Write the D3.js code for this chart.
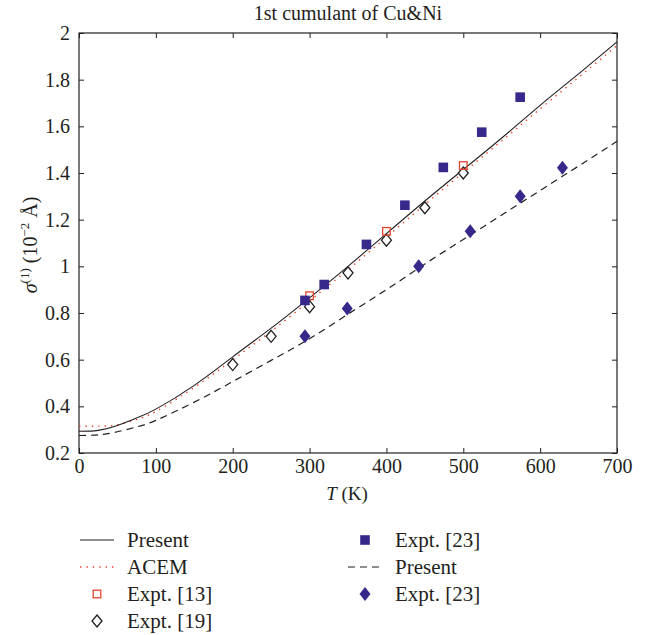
<!DOCTYPE html>
<html>
<head>
<meta charset="utf-8">
<script src="https://cdn.jsdelivr.net/npm/d3@7"></script>
<style>
  body { margin: 0; background: #fff; }
  text { font-family: "Liberation Serif", "DejaVu Serif", serif; fill: #231f20; }
</style>
</head>
<body>
<div id="chart"></div>
<script>
// temperatures (K) at which the curves were read
const curveT = [0, 25, 50, 75, 100, 150, 200, 250, 300, 350, 400, 450, 500, 550, 600, 650, 700];
// Cu, present model (solid)
const cuPresent = [0.293, 0.297, 0.318, 0.350, 0.388, 0.490, 0.612, 0.735, 0.865, 1.0, 1.14, 1.28, 1.415, 1.55, 1.69, 1.825, 1.962];
// Cu, ACEM (red dotted)
const cuAcem = [0.315, 0.315, 0.321, 0.344, 0.378, 0.481, 0.600, 0.722, 0.852, 0.986, 1.125, 1.265, 1.402, 1.538, 1.675, 1.81, 1.946];
// Ni, present model (dashed)
const niPresent = [0.275, 0.278, 0.291, 0.312, 0.340, 0.418, 0.506, 0.597, 0.690, 0.795, 0.90, 1.01, 1.115, 1.22, 1.325, 1.43, 1.536];

// experiment points
const expt13T = [300, 400, 500];
const expt13V = [0.874, 1.15, 1.432];
const expt19T = [200, 250, 300, 350, 400, 450, 500];
const expt19V = [0.579, 0.70, 0.827, 0.972, 1.112, 1.251, 1.40];
const expt23CuT = [294, 319, 374, 424, 474, 524, 574];
const expt23CuV = [0.854, 0.922, 1.094, 1.262, 1.424, 1.575, 1.725];
const expt23NiT = [294, 349, 442, 509, 574, 629];
const expt23NiV = [0.70, 0.819, 1.0, 1.15, 1.30, 1.422];

const xTicks = [0, 100, 200, 300, 400, 500, 600, 700];
const yTicks = [0.2, 0.4, 0.6, 0.8, 1, 1.2, 1.4, 1.6, 1.8, 2];

const W = 651, H = 635;
const margin = { top: 33, right: 34, bottom: 182, left: 79 };
const navy = "#37298c", red = "#e8442c", ink = "#231f20";

const svg = d3.select("#chart").append("svg")
  .attr("width", W).attr("height", H);

const x = d3.scaleLinear().domain([0, 700]).range([margin.left, W - margin.right]);
const y = d3.scaleLinear().domain([0.2, 2]).range([H - margin.bottom, margin.top]);

// axes: ticks pointing inward on all four sides
const tickLen = 5;
svg.append("g")
  .attr("transform", `translate(0,${y(0.2)})`)
  .call(d3.axisBottom(x).tickValues(xTicks).tickSize(-tickLen).tickPadding(6).tickFormat(d3.format("d")))
  .call(g => g.select(".domain").remove());
svg.append("g")
  .attr("transform", `translate(0,${y(2)})`)
  .call(d3.axisTop(x).tickValues(xTicks).tickSize(-tickLen).tickFormat(""))
  .call(g => g.select(".domain").remove());
svg.append("g")
  .attr("transform", `translate(${x(0)},0)`)
  .call(d3.axisLeft(y).tickValues(yTicks).tickSize(-tickLen).tickPadding(9).tickFormat(d => d3.format("")(+d.toFixed(1))))
  .call(g => g.select(".domain").remove());
svg.append("g")
  .attr("transform", `translate(${x(700)},0)`)
  .call(d3.axisRight(y).tickValues(yTicks).tickSize(-tickLen).tickFormat(""))
  .call(g => g.select(".domain").remove());

svg.selectAll(".tick line").attr("stroke", ink).attr("stroke-width", 1);
svg.selectAll(".tick text").attr("font-size", 20).attr("fill", ink)
  .style("font-family", '"Liberation Serif", serif');

svg.append("rect")
  .attr("x", x(0)).attr("y", y(2))
  .attr("width", x(700) - x(0)).attr("height", y(0.2) - y(2))
  .attr("fill", "none").attr("stroke", ink).attr("stroke-width", 1.2);

// curves
const line = d3.line().curve(d3.curveNatural);
const plot = svg.append("g");
function curve(vals, attrs) {
  const p = plot.append("path")
    .attr("d", line(curveT.map((t, i) => [x(t), y(vals[i])])))
    .attr("fill", "none");
  Object.entries(attrs).forEach(([k, v]) => p.attr(k, v));
}
curve(niPresent, { stroke: ink, "stroke-width": 1.2, "stroke-dasharray": "7,5" });
curve(cuAcem, { stroke: red, "stroke-width": 1.4, "stroke-dasharray": "1.4,5" });
curve(cuPresent, { stroke: ink, "stroke-width": 1.1 });

// marker shapes
function diamond(cx, cy, w, h) {
  return `M${cx},${cy - h / 2}L${cx + w / 2},${cy}L${cx},${cy + h / 2}L${cx - w / 2},${cy}Z`;
}
function drawPoints(ts, vs, kind) {
  ts.forEach((t, i) => drawMarker(x(t), y(vs[i]), kind));
}
function drawMarker(cx, cy, kind) {
  if (kind === "sqFill") {
    plot.append("rect").attr("x", cx - 4.8).attr("y", cy - 4.8).attr("width", 9.6).attr("height", 9.6)
      .attr("fill", navy);
  } else if (kind === "sqOpen") {
    plot.append("rect").attr("x", cx - 3.8).attr("y", cy - 3.8).attr("width", 7.6).attr("height", 7.6)
      .attr("fill", "none").attr("stroke", red).attr("stroke-width", 1.3);
  } else if (kind === "diaOpen") {
    plot.append("path").attr("d", diamond(cx, cy, 10, 12))
      .attr("fill", "#fff").attr("stroke", ink).attr("stroke-width", 1.3);
  } else if (kind === "diaFill") {
    plot.append("path").attr("d", diamond(cx, cy, 11, 14)).attr("fill", navy);
  }
}
drawPoints(expt19T, expt19V, "diaOpen");
drawPoints(expt13T, expt13V, "sqOpen");
drawPoints(expt23CuT, expt23CuV, "sqFill");
drawPoints(expt23NiT, expt23NiV, "diaFill");

// title and axis labels
svg.append("text").attr("x", 348).attr("y", 20).attr("text-anchor", "middle")
  .attr("font-size", 20).text("1st cumulant of Cu&Ni");

const xl = svg.append("text").attr("x", 347).attr("y", 500).attr("text-anchor", "middle").attr("font-size", 19);
xl.append("tspan").attr("font-style", "italic").text("T");
xl.append("tspan").text(" (K)");

const yl = svg.append("text").attr("transform", "translate(37,245) rotate(-90)")
  .attr("text-anchor", "middle").attr("font-size", 20);
yl.append("tspan").attr("font-style", "italic").text("σ");
yl.append("tspan").attr("font-size", 13).attr("dy", -8).text("(1)");
yl.append("tspan").attr("dy", 8).text(" (10");
yl.append("tspan").attr("font-size", 13).attr("dy", -8).text("−2");
yl.append("tspan").attr("dy", 8).text(" Å)");

// legend
const legendItems = [
  { col: 0, row: 0, kind: "solid", label: "Present" },
  { col: 0, row: 1, kind: "dotted", label: "ACEM" },
  { col: 0, row: 2, kind: "sqOpen", label: "Expt. [13]" },
  { col: 0, row: 3, kind: "diaOpen", label: "Expt. [19]" },
  { col: 1, row: 0, kind: "sqFill", label: "Expt. [23]" },
  { col: 1, row: 1, kind: "dashed", label: "Present" },
  { col: 1, row: 2, kind: "diaFill", label: "Expt. [23]" }
];
const colX = [97, 365], textX = [127, 395], rowY = [540, 567, 594, 621];
const leg = svg.append("g");
legendItems.forEach(d => {
  const cx = colX[d.col], cy = rowY[d.row];
  if (d.kind === "solid" || d.kind === "dotted" || d.kind === "dashed") {
    const l = leg.append("line").attr("x1", cx - 17).attr("x2", cx + 17).attr("y1", cy).attr("y2", cy);
    if (d.kind === "solid") l.attr("stroke", ink).attr("stroke-width", 1.1);
    if (d.kind === "dotted") l.attr("stroke", red).attr("stroke-width", 1.4).attr("stroke-dasharray", "1.4,5");
    if (d.kind === "dashed") l.attr("stroke", ink).attr("stroke-width", 1.2).attr("stroke-dasharray", "7,5");
  } else {
    drawMarker(cx, cy, d.kind);
  }
  leg.append("text").attr("x", textX[d.col]).attr("y", cy + 7).attr("font-size", 21).text(d.label);
});
</script>
</body>
</html>
